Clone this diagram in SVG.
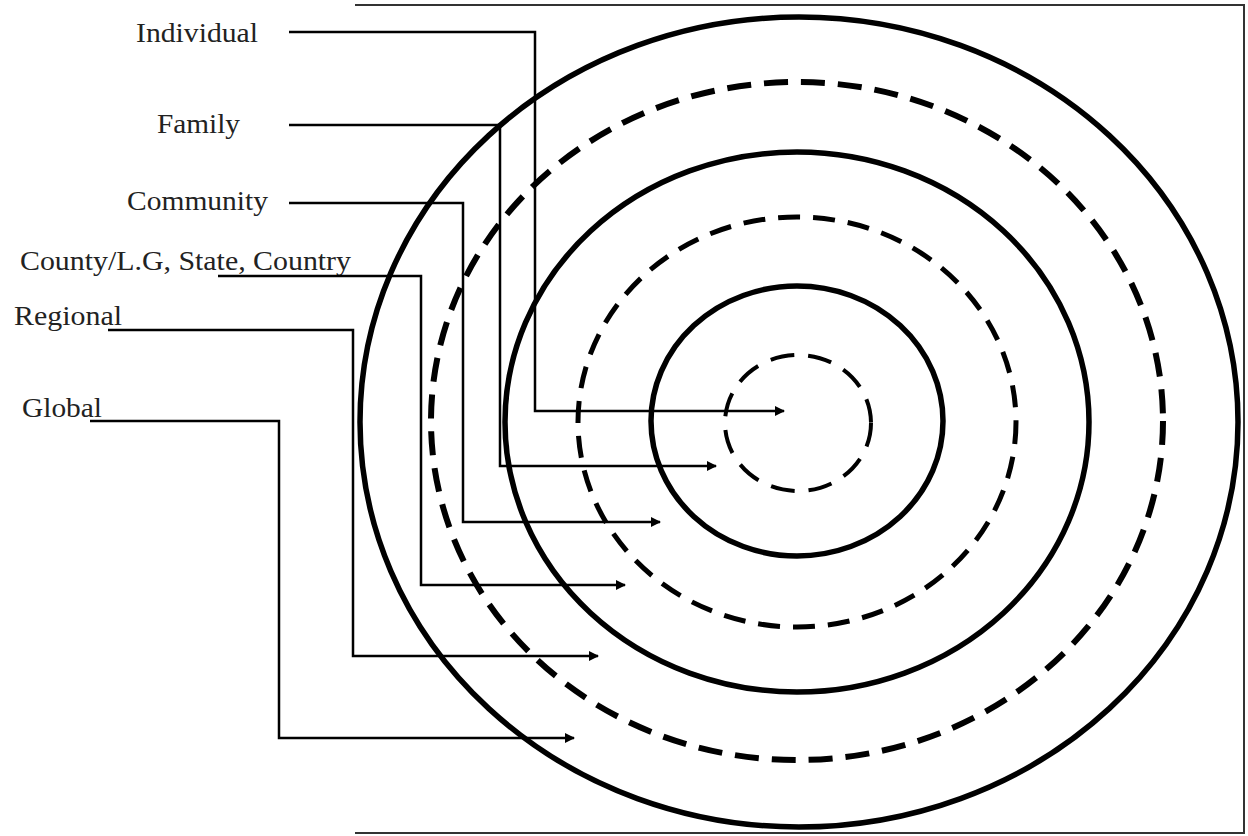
<svg xmlns="http://www.w3.org/2000/svg" width="1248" height="836" viewBox="0 0 1248 836">
<style>
.frame{fill:none;stroke:#333;stroke-width:2}
.ring{fill:none;stroke:#000;stroke-width:5.5}
.dash1{fill:none;stroke:#000;stroke-width:6;stroke-dasharray:24 13}
.dash2{fill:none;stroke:#000;stroke-width:5;stroke-dasharray:22 13}
.dash3{fill:none;stroke:#000;stroke-width:4;stroke-dasharray:24 14}
.conn{fill:none;stroke:#000;stroke-width:2.5;marker-end:url(#ah)}
.lbl{font-family:"Liberation Serif","Times New Roman",serif;font-size:27px;fill:#222}
</style>
<defs>
<marker id="ah" viewBox="0 0 10 10" refX="9" refY="5" markerWidth="5" markerHeight="4" orient="auto" markerUnits="strokeWidth">
<path d="M0,0 L10,5 L0,10 z" fill="#000"/>
</marker>
</defs>
<rect width="1248" height="836" fill="#fff"/>
<path class="frame" d="M355,5 H1244 V833 H355"/>
<g id="rings">
<ellipse id="ring-global" class="ring" cx="799" cy="422" rx="439" ry="405"/>
<ellipse id="ring-regional" class="dash1" cx="797" cy="421" rx="366" ry="339"/>
<ellipse id="ring-country" class="ring" cx="797" cy="422" rx="292" ry="270"/>
<ellipse id="ring-community" class="dash2" cx="797" cy="422" rx="219" ry="205"/>
<ellipse id="ring-family" class="ring" cx="797" cy="421" rx="146" ry="135"/>
<ellipse id="ring-individual" class="dash3" cx="798" cy="423" rx="73" ry="68"/>
</g>
<g id="label-individual"><text class="lbl" x="136" y="42" textLength="122" lengthAdjust="spacingAndGlyphs">Individual</text></g>
<g id="label-family"><text class="lbl" x="157" y="133" textLength="83" lengthAdjust="spacingAndGlyphs">Family</text></g>
<g id="label-community"><text class="lbl" x="127" y="210" textLength="141" lengthAdjust="spacingAndGlyphs">Community</text></g>
<g id="label-county"><text class="lbl" x="20" y="270" textLength="331" lengthAdjust="spacingAndGlyphs">County/L.G, State, Country</text></g>
<g id="label-regional"><text class="lbl" x="14" y="325" textLength="108" lengthAdjust="spacingAndGlyphs">Regional</text></g>
<g id="label-global"><text class="lbl" x="22" y="417" textLength="80" lengthAdjust="spacingAndGlyphs">Global</text></g>
<g id="connectors">
<path class="conn" d="M289,32 H535 V411 H784"/>
<path class="conn" d="M289,125 H500 V466 H716"/>
<path class="conn" d="M289,203 H463 V522 H660"/>
<path class="conn" d="M218,276 H421 V585 H625"/>
<path class="conn" d="M108,330 H353 V656 H598"/>
<path class="conn" d="M90,421 H279 V738 H574"/>
</g>
</svg>
